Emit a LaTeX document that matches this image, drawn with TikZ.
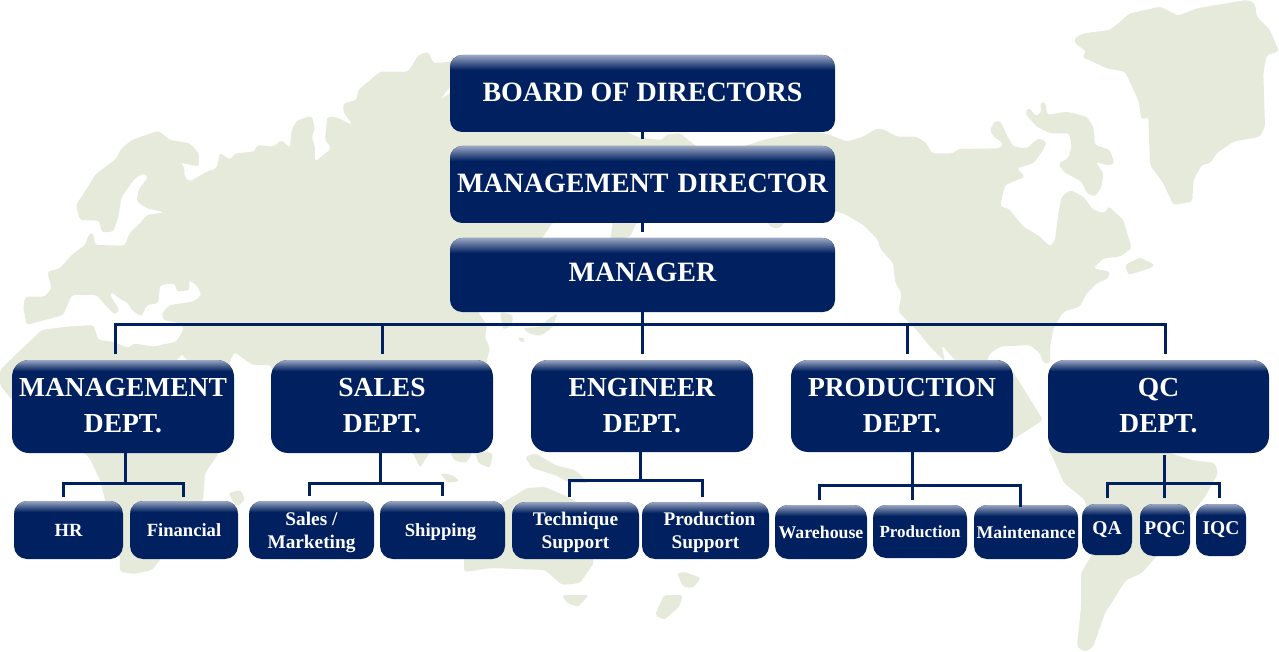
\documentclass[tikz,border=0pt]{standalone}
\usepackage{fontspec}
\setmainfont{Liberation Serif}
\definecolor{navy}{HTML}{00205F}
\definecolor{landc}{HTML}{E6EADB}
\definecolor{glow}{HTML}{9AA6C2}
\tikzset{
  land/.style={fill=landc,draw=none,rounded corners=3pt},
  org/.style 2 args={draw=none,fill=navy,rounded corners=#1,inner sep=0pt,align=center,
    text=white,font=\bfseries,
    path picture={\foreach \i in {1,...,#2}{%
      \pgfmathsetmacro{\pc}{100*(\i-1)/#2}%
      \fill[navy!\pc!glow,sharp corners]
        ([yshift={-(\i-1)*1pt}]path picture bounding box.north west) rectangle
        ([yshift={-\i*1pt-0.2pt}]path picture bounding box.north east);}}},
  topbox/.style={org={12pt}{15},font=\fontsize{28}{34}\selectfont\bfseries},
  deptbox/.style={org={17pt}{11},font=\fontsize{27.5}{36}\selectfont\bfseries},
  subbox/.style={org={13pt}{11},font=\fontsize{18.6}{23}\selectfont\bfseries},
  twolinebox/.style={org={13pt}{11},font=\fontsize{19.3}{23}\selectfont\bfseries},
  qcbox/.style={org={13pt}{11},font=\fontsize{19.5}{23}\selectfont\bfseries},
  tightbox/.style={org={13pt}{11},font=\fontsize{17.8}{23}\selectfont\bfseries},
  narrowbox/.style={org={13pt}{11},font=\fontsize{17}{23}\selectfont\bfseries},
  conn/.style={draw=navy,line width=3pt,line cap=butt,line join=miter}
}
\newcommand{\orgbox}[7]{% style,name,x1,y1,x2,y2,text
  \pgfmathsetmacro{\bw}{#5-#3}\pgfmathsetmacro{\bh}{#6-#4}
  \pgfmathsetmacro{\bx}{(#3+#5)/2}\pgfmathsetmacro{\by}{(#4+#6)/2}
  \node[#1,minimum width=\bw pt,minimum height=\bh pt] (#2) at (\bx,\by) {#7};}
\newcommand{\dn}[1]{\raisebox{-2pt}[\height][\depth]{#1}}
\newcommand{\upa}[1]{\raisebox{.5pt}[\height][\depth]{#1}}
\begin{document}
\begin{tikzpicture}[x=1pt,y=-1pt]
\useasboundingbox (0,0) rectangle (1279,652);
\fill[white] (0,0) rectangle (1279,652);
% ---------- map: Eurasia and Africa (coordinates of a 3x trace)
\begin{scope}[x=.33333pt,y=-.33333pt]
\path[land] (70,925)--(75,890)--(135,890)--(155,865)--(142,815)--(180,805)--(215,765)--(255,735)--(268,700)--(280,700)--(285,735)--(375,737)--(388,700)--(425,665)--(440,645)--(495,637)--(440,625)--(410,605)--(415,570)--(445,530)--(430,520)--(405,535)--(365,590)--(355,650)--(340,695)--(305,697)--(298,662)--(240,660)--(228,615)--(255,575)--(285,525)--(350,475)--(360,450)--(395,420)--(475,392)--(510,420)--(570,430)--(597,460)--(597,500)--(575,495)--(540,488)--(553,500)--(553,530)--(570,545)--(620,515)--(650,505)--(660,458)--(690,480)--(705,460)--(765,455)--(770,435)--(820,440)--(845,420)--(870,445)--(875,390)--(890,362)--(935,347)--(945,385)--(935,410)--(945,440)--(945,485)--(995,445)--(975,420)--(982,350)--(1010,352)--(1058,375)--(1030,335)--(1030,310)--(1070,300)--(1075,270)--(1140,215)--(1225,215)--(1255,165)--(1285,155)--(1300,190)--(1350,185)--(1400,180)--(1881,396)--(1920,414)--(1989,420)--(1995,405)--(2040,399)--(2091,441)--(2100,600)--(1911,666)--(1890,711)--(1830,720)--(1839,666)--(1800,600)--(1659,666)--(1629,711)--(1560,840)--(1434,936)--(1461,975)--(1455,1014)--(1470,1044)--(1461,1080)--(1440,1200)--(1290,1356)--(1260,1404)--(1239,1359)--(1140,1320)--(825,1140)--(813,1095)--(759,1095)--(735,1080)--(705,1056)--(693,1074)--(690,1095)--(699,1200)--(675,1320)--(657,1359)--(615,1419)--(609,1500)--(480,1680)--(456,1710)--(402,1722)--(360,1716)--(360,1674)--(315,1500)--(300,1440)--(267,1371)--(36,1200)--(0,1155)--(0,1110)--(40,1071)--(125,990)--(200,980)--(280,975)--(295,1020)--(340,1025)--(385,1045)--(400,1030)--(460,1040)--(530,1025)--(552,985)--(540,970)--(490,960)--(485,940)--(510,915)--(580,905)--(605,885)--(590,855)--(565,840)--(570,870)--(530,875)--(525,850)--(480,855)--(475,910)--(440,915)--(425,950)--(395,930)--(385,910)--(350,890)--(335,875)--(330,885)--(358,930)--(345,945)--(320,920)--(290,885)--(215,885)--(190,945)--(80,975)--cycle;
\fill[white] (1325,295)--(1352,258)--(1352,278)--cycle;
\fill[white] (531,1080)--(546,1065)--(561,1080)--cycle;
\end{scope}
% ---------- map: North America, islands, Greenland (3x trace, from x=830)
\begin{scope}[xshift=830pt,x=.33333pt,y=-.33333pt]
\path[land] (-264,441)--(-201,420)--(-60,390)--(0,405)--(50,425)--(100,410)--(140,385)--(165,390)--(200,410)--(260,410)--(290,430)--(305,460)--(370,460)--(385,447)--(510,445)--(520,430)--(490,410)--(480,390)--(495,362)--(512,365)--(530,405)--(550,440)--(590,445)--(625,415)--(650,425)--(640,450)--(610,490)--(560,505)--(585,530)--(525,555)--(510,620)--(535,625)--(580,680)--(630,710)--(660,740)--(675,720)--(685,640)--(695,590)--(720,570)--(760,590)--(790,630)--(825,640)--(835,618)--(880,660)--(905,745)--(870,770)--(820,775)--(790,805)--(840,815)--(835,835)--(800,850)--(770,880)--(750,920)--(700,935)--(670,985)--(660,1045)--(660,1090)--(640,1090)--(630,1060)--(600,1035)--(510,1040)--(480,1060)--(470,1085)--(510,1100)--(546,1110)--(639,1260)--(546,1320)--(420,1260)--(380,1085)--(335,1035)--(345,1085)--(300,1040)--(260,990)--(205,935)--(215,880)--(195,845)--(190,790)--(150,745)--(145,720)--(100,675)--(40,640)--(0,630)--(-135,666)--(-150,684)--(-175,684)--(-189,666)--cycle;
\path[land] (585,340)--(597,322)--(618,350)--(635,335)--(630,310)--(645,305)--(652,345)--(710,335)--(770,350)--(790,380)--(795,435)--(840,450)--(853,490)--(835,497)--(797,485)--(820,520)--(815,560)--(795,590)--(770,580)--(755,545)--(700,515)--(685,490)--(715,475)--(725,440)--(718,400)--(660,400)--(620,380)--cycle;
\path[land] (885,795)--(930,772)--(975,795)--(960,805)--(895,825)--cycle;
\path[land] (733,115)--(760,100)--(840,90)--(900,40)--(990,20)--(1045,47)--(1100,25)--(1250,0)--(1275,10)--(1280,50)--(1320,90)--(1347,155)--(1310,165)--(1300,220)--(1305,380)--(1290,410)--(1210,425)--(1160,460)--(1140,490)--(1115,495)--(1090,540)--(1087,605)--(1030,615)--(1000,550)--(960,495)--(955,350)--(935,360)--(925,300)--(885,215)--(830,205)--(755,170)--(770,155)--(735,130)--cycle;
\end{scope}
% ---------- map: smaller lands (picture coordinates)
\path[land] (500,312)--(513,315)--(512,325)--(503,330)--cycle;
\path[land] (523,328)--(540,327)--(547,320)--(558,313)--(552,328)--(540,336)--(528,333)--cycle;
\path[land] (517,338)--(522,337)--(525,340)--(522,343)--cycle;
\path[land] (228,493)--(241,490)--(245,500)--(237,507)--cycle;
\path[land] (450,453)--(473,453)--(466,463)--(455,461)--cycle;
\path[land] (475,450)--(493,453)--(490,468)--(478,463)--cycle;
\path[land] (440,473)--(452,475)--(460,481)--(448,483)--cycle;
\path[land] (525,457)--(535,453)--(555,465)--(575,470)--(589,483)--(570,483)--(555,475)--(532,468)--cycle;
\path[land] (504,502)--(527,488)--(545,487)--(575,500)--(594,563)--(580,583)--(562,585)--(545,570)--(491,568)--(464,572)--(464,555)--(480,520)--cycle;
\path[land] (562,595)--(589,595)--(578,607)--(567,603)--cycle;
\path[land] (677,573)--(685,572)--(701,578)--(693,588)--(683,587)--cycle;
\path[land] (664,595)--(683,595)--(679,607)--(664,620)--(655,615)--cycle;
\path[land] (1048,447)--(1100,450)--(1170,453)--(1191,460)--(1215,463)--(1218,473)--(1205,497)--(1170,540)--(1142,573)--(1126,580)--(1105,613)--(1093,647)--(1085,652)--(1077,647)--(1081,607)--(1081,573)--(1093,553)--(1085,500)--(1064,483)--cycle;
% ---------- boxes
\orgbox{topbox}{board}{450}{55}{835}{132}{\raisebox{3pt}{BOARD OF DIRECTORS}}
\orgbox{topbox}{md}{450}{146}{835}{223}{\raisebox{3pt}{MANAGEMENT\hspace{9pt}DIRECTOR}}
\orgbox{topbox}{mgr}{450}{238}{835}{312}{\raisebox{5pt}{MANAGER}}
\orgbox{deptbox}{dmgmt}{12}{360}{234}{453}{\upa{MANAGEMENT}\\\upa{DEPT.}}
\orgbox{deptbox}{dsales}{271}{360}{493}{453}{\upa{SALES}\\\upa{DEPT.}}
\orgbox{deptbox}{deng}{531}{360}{753}{452}{\upa{ENGINEER}\\\upa{DEPT.}}
\orgbox{deptbox}{dprod}{791}{360}{1013}{452}{\upa{PRODUCTION}\\\upa{DEPT.}}
\orgbox{deptbox}{dqc}{1048}{360}{1269}{453}{\upa{QC}\\\upa{DEPT.}}
\orgbox{subbox}{hr}{14}{501}{123}{559}{HR}
\orgbox{subbox}{fin}{130}{501}{238}{559}{Financial}
\orgbox{twolinebox}{mkt}{249}{501}{374}{559}{\dn{Sales /}\\\dn{Marketing}}
\orgbox{subbox}{ship}{380}{501}{505}{559}{\dn{Shipping\hspace{4pt}}}
\orgbox{twolinebox}{tech}{512}{502}{639}{559}{\dn{Technique}\\\dn{Support}}
\orgbox{twolinebox}{psup}{642}{502}{769}{559}{\dn{\hspace{8pt}Production}\\\dn{Support}}
\orgbox{tightbox}{ware}{775}{505}{867}{559}{Warehouse}
\orgbox{narrowbox}{prodn}{873}{505}{967}{558}{Production}
\orgbox{tightbox}{maint}{974}{505}{1078}{559}{Maintenance}
\orgbox{qcbox}{qa}{1082}{504}{1132}{555}{QA}
\orgbox{qcbox}{pqc}{1140}{504}{1190}{556}{PQC}
\orgbox{qcbox}{iqc}{1196}{504}{1246}{556}{IQC}
% ---------- connector ends
\coordinate (e1) at (642.5,139);
\coordinate (e2) at (642.5,232);
\coordinate (e3) at (642.5,354);
\coordinate (busA) at (642.5,324.5);
\coordinate (dA) at (115.5,354); \coordinate (dB) at (382.5,354); \coordinate (dC) at (907.5,354); \coordinate (dD) at (1165.5,354);
\coordinate (mgA) at (125.5,483.5); \coordinate (hrE) at (63.5,497); \coordinate (finE) at (183.5,497);
\coordinate (saA) at (380.5,483.5); \coordinate (mkE) at (309.5,496); \coordinate (shE) at (442.5,496);
\coordinate (enA) at (640.5,480.5); \coordinate (teE) at (569.5,497); \coordinate (psE) at (702.5,497);
\coordinate (prA) at (912.5,485.5); \coordinate (waE) at (819.5,500); \coordinate (pnE) at (912.5,500); \coordinate (maE) at (1020.5,507);
\coordinate (qcS) at (1164.5,455); \coordinate (qcA) at (1164.5,483.5); \coordinate (qaE) at (1107.5,498); \coordinate (pqE) at (1164.5,498); \coordinate (iqE) at (1219.5,498);
% ---------- connectors
\draw[conn] (board.south -| e1) -- (e1);
\draw[conn] (md.south -| e2) -- (e2);
\draw[conn] (mgr.south -| e3) -- (e3);
\draw[conn] (dA) -- (dA |- busA) -- (dD |- busA) -- (dD);
\draw[conn] (dB |- busA) -- (dB);
\draw[conn] (dC |- busA) -- (dC);
\draw[conn] (dmgmt.south -| mgA) -- (mgA);
\draw[conn] (hrE) -- (hrE |- mgA) -- (finE |- mgA) -- (finE);
\draw[conn] (dsales.south -| saA) -- (saA);
\draw[conn] (mkE) -- (mkE |- saA) -- (shE |- saA) -- (shE);
\draw[conn] (deng.south -| enA) -- (enA);
\draw[conn] (teE) -- (teE |- enA) -- (psE |- enA) -- (psE);
\draw[conn] (dprod.south -| pnE) -- (pnE);
\draw[conn] (waE) -- (waE |- prA) -- (maE |- prA) -- (maE);
\draw[conn] (qcS) -- (pqE);
\draw[conn] (qaE) -- (qaE |- qcA) -- (iqE |- qcA) -- (iqE);
\end{tikzpicture}
\end{document}
